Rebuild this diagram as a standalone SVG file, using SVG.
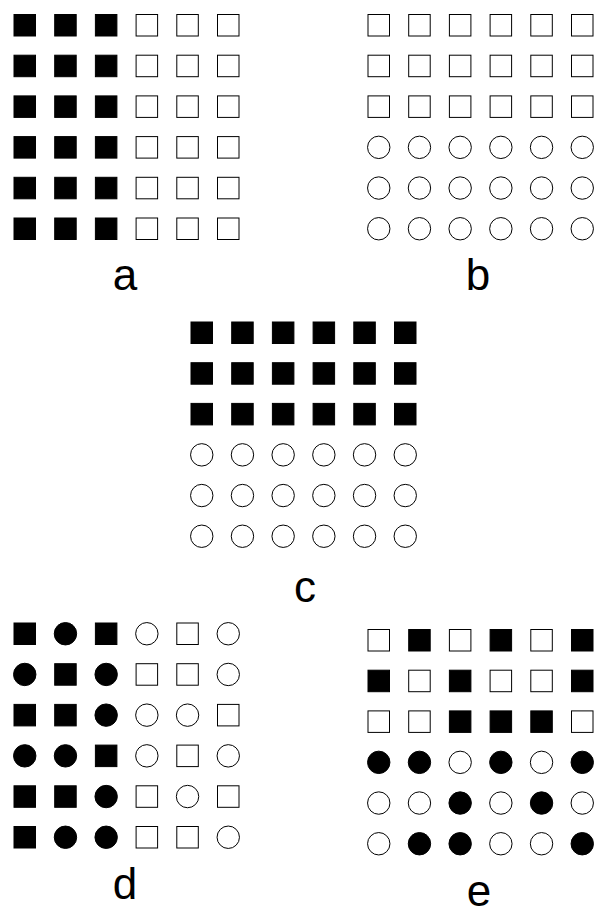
<svg xmlns="http://www.w3.org/2000/svg" xmlns:xlink="http://www.w3.org/1999/xlink" width="595" height="906" viewBox="0 0 595 906">
<style>
.o{fill:#fff;stroke:#000;stroke-width:1}
.f{fill:#000;stroke:#000;stroke-width:1}
.lbl{font-family:"Liberation Sans",Arial,sans-serif;font-size:44px;fill:#000;text-anchor:middle}
</style>
<defs>
<rect id="sf" class="f" x="0.5" y="0.5" width="21.5" height="21.5"/>
<rect id="so" class="o" x="0.5" y="0.5" width="21.5" height="21.5"/>
<circle id="cf" class="f" cx="11.25" cy="11.25" r="11.2"/>
<circle id="co" class="o" cx="11.25" cy="11.25" r="11.2"/>
</defs>
<rect width="595" height="906" fill="#fff"/>

<g id="grid-a" transform="translate(13.5,14)">
<use href="#sf" x="0" y="0"/><use href="#sf" x="40.7" y="0"/><use href="#sf" x="81.4" y="0"/><use href="#so" x="122.1" y="0"/><use href="#so" x="162.8" y="0"/><use href="#so" x="203.5" y="0"/>
<use href="#sf" x="0" y="40.7"/><use href="#sf" x="40.7" y="40.7"/><use href="#sf" x="81.4" y="40.7"/><use href="#so" x="122.1" y="40.7"/><use href="#so" x="162.8" y="40.7"/><use href="#so" x="203.5" y="40.7"/>
<use href="#sf" x="0" y="81.4"/><use href="#sf" x="40.7" y="81.4"/><use href="#sf" x="81.4" y="81.4"/><use href="#so" x="122.1" y="81.4"/><use href="#so" x="162.8" y="81.4"/><use href="#so" x="203.5" y="81.4"/>
<use href="#sf" x="0" y="122.1"/><use href="#sf" x="40.7" y="122.1"/><use href="#sf" x="81.4" y="122.1"/><use href="#so" x="122.1" y="122.1"/><use href="#so" x="162.8" y="122.1"/><use href="#so" x="203.5" y="122.1"/>
<use href="#sf" x="0" y="162.8"/><use href="#sf" x="40.7" y="162.8"/><use href="#sf" x="81.4" y="162.8"/><use href="#so" x="122.1" y="162.8"/><use href="#so" x="162.8" y="162.8"/><use href="#so" x="203.5" y="162.8"/>
<use href="#sf" x="0" y="203.5"/><use href="#sf" x="40.7" y="203.5"/><use href="#sf" x="81.4" y="203.5"/><use href="#so" x="122.1" y="203.5"/><use href="#so" x="162.8" y="203.5"/><use href="#so" x="203.5" y="203.5"/>
</g>
<text id="label-a" class="lbl" x="125" y="290">a</text>

<g id="grid-b" transform="translate(367.5,14)">
<use href="#so" x="0" y="0"/><use href="#so" x="40.7" y="0"/><use href="#so" x="81.4" y="0"/><use href="#so" x="122.1" y="0"/><use href="#so" x="162.8" y="0"/><use href="#so" x="203.5" y="0"/>
<use href="#so" x="0" y="40.7"/><use href="#so" x="40.7" y="40.7"/><use href="#so" x="81.4" y="40.7"/><use href="#so" x="122.1" y="40.7"/><use href="#so" x="162.8" y="40.7"/><use href="#so" x="203.5" y="40.7"/>
<use href="#so" x="0" y="81.4"/><use href="#so" x="40.7" y="81.4"/><use href="#so" x="81.4" y="81.4"/><use href="#so" x="122.1" y="81.4"/><use href="#so" x="162.8" y="81.4"/><use href="#so" x="203.5" y="81.4"/>
<use href="#co" x="0" y="122.1"/><use href="#co" x="40.7" y="122.1"/><use href="#co" x="81.4" y="122.1"/><use href="#co" x="122.1" y="122.1"/><use href="#co" x="162.8" y="122.1"/><use href="#co" x="203.5" y="122.1"/>
<use href="#co" x="0" y="162.8"/><use href="#co" x="40.7" y="162.8"/><use href="#co" x="81.4" y="162.8"/><use href="#co" x="122.1" y="162.8"/><use href="#co" x="162.8" y="162.8"/><use href="#co" x="203.5" y="162.8"/>
<use href="#co" x="0" y="203.5"/><use href="#co" x="40.7" y="203.5"/><use href="#co" x="81.4" y="203.5"/><use href="#co" x="122.1" y="203.5"/><use href="#co" x="162.8" y="203.5"/><use href="#co" x="203.5" y="203.5"/>
</g>
<text id="label-b" class="lbl" x="478" y="290">b</text>

<g id="grid-c" transform="translate(190.5,321.5)">
<use href="#sf" x="0" y="0"/><use href="#sf" x="40.7" y="0"/><use href="#sf" x="81.4" y="0"/><use href="#sf" x="122.1" y="0"/><use href="#sf" x="162.8" y="0"/><use href="#sf" x="203.5" y="0"/>
<use href="#sf" x="0" y="40.7"/><use href="#sf" x="40.7" y="40.7"/><use href="#sf" x="81.4" y="40.7"/><use href="#sf" x="122.1" y="40.7"/><use href="#sf" x="162.8" y="40.7"/><use href="#sf" x="203.5" y="40.7"/>
<use href="#sf" x="0" y="81.4"/><use href="#sf" x="40.7" y="81.4"/><use href="#sf" x="81.4" y="81.4"/><use href="#sf" x="122.1" y="81.4"/><use href="#sf" x="162.8" y="81.4"/><use href="#sf" x="203.5" y="81.4"/>
<use href="#co" x="0" y="122.1"/><use href="#co" x="40.7" y="122.1"/><use href="#co" x="81.4" y="122.1"/><use href="#co" x="122.1" y="122.1"/><use href="#co" x="162.8" y="122.1"/><use href="#co" x="203.5" y="122.1"/>
<use href="#co" x="0" y="162.8"/><use href="#co" x="40.7" y="162.8"/><use href="#co" x="81.4" y="162.8"/><use href="#co" x="122.1" y="162.8"/><use href="#co" x="162.8" y="162.8"/><use href="#co" x="203.5" y="162.8"/>
<use href="#co" x="0" y="203.5"/><use href="#co" x="40.7" y="203.5"/><use href="#co" x="81.4" y="203.5"/><use href="#co" x="122.1" y="203.5"/><use href="#co" x="162.8" y="203.5"/><use href="#co" x="203.5" y="203.5"/>
</g>
<text id="label-c" class="lbl" x="305" y="602">c</text>

<g id="grid-d" transform="translate(13.5,622.5)">
<use href="#sf" x="0" y="0"/><use href="#cf" x="40.7" y="0"/><use href="#sf" x="81.4" y="0"/><use href="#co" x="122.1" y="0"/><use href="#so" x="162.8" y="0"/><use href="#co" x="203.5" y="0"/>
<use href="#cf" x="0" y="40.7"/><use href="#sf" x="40.7" y="40.7"/><use href="#cf" x="81.4" y="40.7"/><use href="#so" x="122.1" y="40.7"/><use href="#so" x="162.8" y="40.7"/><use href="#co" x="203.5" y="40.7"/>
<use href="#sf" x="0" y="81.4"/><use href="#sf" x="40.7" y="81.4"/><use href="#cf" x="81.4" y="81.4"/><use href="#co" x="122.1" y="81.4"/><use href="#co" x="162.8" y="81.4"/><use href="#so" x="203.5" y="81.4"/>
<use href="#cf" x="0" y="122.1"/><use href="#cf" x="40.7" y="122.1"/><use href="#sf" x="81.4" y="122.1"/><use href="#co" x="122.1" y="122.1"/><use href="#so" x="162.8" y="122.1"/><use href="#co" x="203.5" y="122.1"/>
<use href="#sf" x="0" y="162.8"/><use href="#sf" x="40.7" y="162.8"/><use href="#cf" x="81.4" y="162.8"/><use href="#so" x="122.1" y="162.8"/><use href="#co" x="162.8" y="162.8"/><use href="#so" x="203.5" y="162.8"/>
<use href="#sf" x="0" y="203.5"/><use href="#cf" x="40.7" y="203.5"/><use href="#cf" x="81.4" y="203.5"/><use href="#so" x="122.1" y="203.5"/><use href="#so" x="162.8" y="203.5"/><use href="#co" x="203.5" y="203.5"/>
</g>
<text id="label-d" class="lbl" x="125" y="899">d</text>

<g id="grid-e" transform="translate(367.5,629)">
<use href="#so" x="0" y="0"/><use href="#sf" x="40.7" y="0"/><use href="#so" x="81.4" y="0"/><use href="#sf" x="122.1" y="0"/><use href="#so" x="162.8" y="0"/><use href="#sf" x="203.5" y="0"/>
<use href="#sf" x="0" y="40.7"/><use href="#so" x="40.7" y="40.7"/><use href="#sf" x="81.4" y="40.7"/><use href="#so" x="122.1" y="40.7"/><use href="#so" x="162.8" y="40.7"/><use href="#sf" x="203.5" y="40.7"/>
<use href="#so" x="0" y="81.4"/><use href="#so" x="40.7" y="81.4"/><use href="#sf" x="81.4" y="81.4"/><use href="#sf" x="122.1" y="81.4"/><use href="#sf" x="162.8" y="81.4"/><use href="#so" x="203.5" y="81.4"/>
<use href="#cf" x="0" y="122.1"/><use href="#cf" x="40.7" y="122.1"/><use href="#co" x="81.4" y="122.1"/><use href="#cf" x="122.1" y="122.1"/><use href="#co" x="162.8" y="122.1"/><use href="#cf" x="203.5" y="122.1"/>
<use href="#co" x="0" y="162.8"/><use href="#co" x="40.7" y="162.8"/><use href="#cf" x="81.4" y="162.8"/><use href="#co" x="122.1" y="162.8"/><use href="#cf" x="162.8" y="162.8"/><use href="#co" x="203.5" y="162.8"/>
<use href="#co" x="0" y="203.5"/><use href="#cf" x="40.7" y="203.5"/><use href="#cf" x="81.4" y="203.5"/><use href="#co" x="122.1" y="203.5"/><use href="#co" x="162.8" y="203.5"/><use href="#cf" x="203.5" y="203.5"/>
</g>
<text id="label-e" class="lbl" x="479" y="906">e</text>
</svg>
